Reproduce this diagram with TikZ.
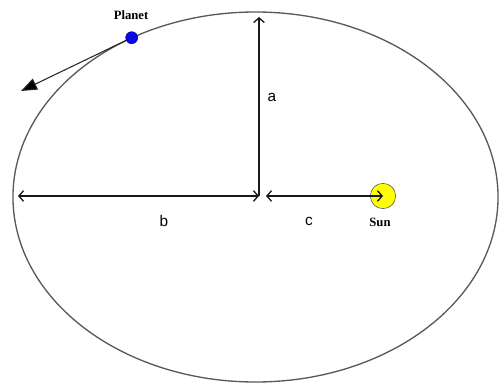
\documentclass[tikz,border=0pt]{standalone}
\usepackage{fontspec}
\setmainfont{Liberation Serif}
\setsansfont{Liberation Sans}
\usetikzlibrary{arrows.meta}
\definecolor{sunyellow}{RGB}{255,255,0}
\definecolor{planetblue}{RGB}{10,10,230}

\begin{document}
\begin{tikzpicture}[x=0.75pt,y=-0.75pt,>={Straight Barb[length=3.5pt,width=8pt]},
  axis/.style={line width=1pt,black!90},
  lbl/.style={font=\sffamily\fontsize{11.5}{12}\selectfont},
  bodyname/.style={font=\bfseries\fontsize{9.5}{10}\selectfont}]
\useasboundingbox (0,0) rectangle (499,385);
\draw[line width=1pt,black!65] (255.5,197) ellipse [x radius=181.9pt, y radius=138.75pt];
\coordinate (O) at (259,196); \coordinate (A) at (259,17); \coordinate (B) at (18,196); \coordinate (C) at (266,196);
\coordinate (V) at (21,91);
\node[circle,draw=black!70,fill=sunyellow,minimum size=19pt,inner sep=0pt] (sun) at (383,196) {};
\node[circle,draw=blue!60!black,fill=planetblue,minimum size=9pt,inner sep=0pt] (planet) at (131.7,37.7) {};
\draw[axis,->] (O)--(A); \draw[axis,<->] (B)--(O); \draw[axis,<->] (C)--(sun.center);
\draw[line width=0.8pt,black!85,-{Triangle[length=12pt,width=9pt,fill=black]}] (planet)--(V);
\node[lbl] (la) at (272,97){a}; \node[lbl] (lb) at (164,221){b}; \node[lbl] (lc) at (309,221){c};
\node[bodyname] (lsun) at (380,222){Sun}; \node[bodyname] (lplanet) at (131,15){Planet};
\end{tikzpicture}
\end{document}
